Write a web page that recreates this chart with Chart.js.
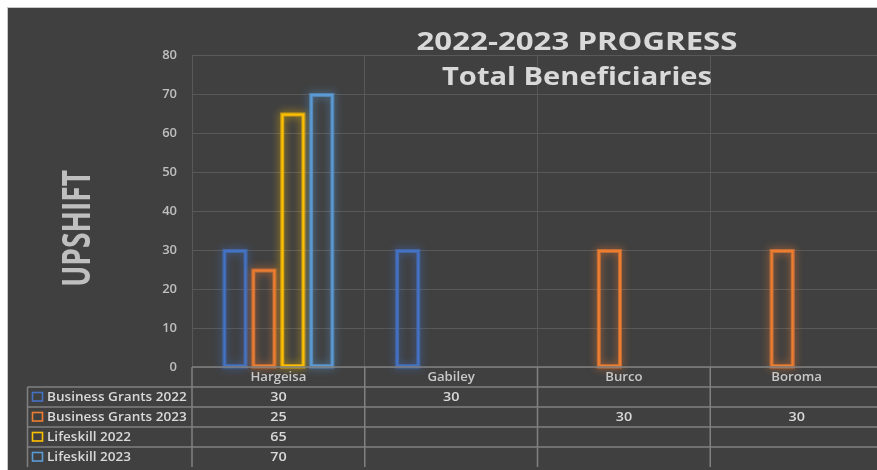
<!DOCTYPE html>
<html>
<head>
<meta charset="utf-8">
<script src="https://cdn.jsdelivr.net/npm/chart.js@4.4.0/dist/chart.umd.min.js"></script>
<style>
html, body { margin: 0; padding: 0; background: #ffffff; overflow: hidden; width: 877px; height: 470px; }
#wrap { position: absolute; left: 7px; top: 7px; width: 892px; height: 462px;
        border-left: 1px solid #c8c8c8; border-top: 1px solid #c8c8c8; background: #404040; }
</style>
</head>
<body>
<div id="wrap"><canvas id="chart" width="892" height="462"></canvas></div>
<script>
// chart data
var categories = ['Hargeisa', 'Gabiley', 'Burco', 'Boroma'];
var seriesNames = ['Business Grants 2022', 'Business Grants 2023', 'Lifeskill 2022', 'Lifeskill 2023'];
var businessGrants2022 = [30, 30, null, null];
var businessGrants2023 = [25, null, 30, 30];
var lifeskill2022 = [65, null, null, null];
var lifeskill2023 = [70, null, null, null];
var yTicks = [0, 10, 20, 30, 40, 50, 60, 70, 80];
var titleLines = ['2022-2023 PROGRESS', 'Total Beneficiaries'];
var yTitle = 'UPSHIFT';

var colors = ['#4472C4', '#ED7D31', '#FFC000', '#5B9BD5'];
var seriesValues = [businessGrants2022, businessGrants2023, lifeskill2022, lifeskill2023];
var FONT = '"Open Sans", "DejaVu Sans", sans-serif';

function stretchText(ctx, txt, x, y, sx){
    ctx.save();
    ctx.translate(x, y);
    ctx.scale(sx, 1);
    ctx.fillText(txt, 0, 0);
    ctx.restore();
}
function fitText(ctx, txt, x, y, w){
    var m = ctx.measureText(txt).width;
    stretchText(ctx, txt, x, y, w / m);
}

// soft glow round each bar
var glowPlugin = {
    id: 'glow',
    beforeDatasetsDraw: function(chart){
        var ctx = chart.ctx;
        chart.data.datasets.forEach(function(ds, i){
            var meta = chart.getDatasetMeta(i);
            meta.data.forEach(function(el, j){
                if (ds.data[j] == null) return;
                var p = el.getProps(['x', 'y', 'base', 'width'], true);
                ctx.save();
                ctx.shadowColor = colors[i];
                ctx.shadowBlur = 9;
                ctx.strokeStyle = colors[i] + 'aa';
                ctx.lineWidth = 4;
                ctx.strokeRect(p.x - p.width / 2 + 1, p.y + 1, p.width - 2, p.base - p.y - 1);
                ctx.restore();
            });
        });
    }
};

// title, axis title and the data table
var extrasPlugin = {
    id: 'extras',
    afterDraw: function(chart){
        var ctx = chart.ctx;
        var area = chart.chartArea;
        var xs = chart.scales.x;
        var W = chart.width;
        ctx.save();

        // title
        ctx.fillStyle = '#d9d9d9';
        ctx.textAlign = 'center';
        ctx.textBaseline = 'alphabetic';
        ctx.font = 'bold 25px ' + FONT;
        fitText(ctx, titleLines[0], 569, 42, 321);
        fitText(ctx, titleLines[1], 569, 77, 270);

        // y axis title
        ctx.save();
        ctx.translate(82, 220.5);
        ctx.rotate(-Math.PI / 2);
        ctx.fillStyle = '#bfbfbf';
        ctx.font = 'bold 39px ' + FONT;
        fitText(ctx, yTitle, 0, 0, 117);
        ctx.restore();

        // table grid
        var n = categories.length;
        var cw = (area.right - area.left) / n;
        var top = area.bottom, rowH = 20, legendLeft = 19.5;
        var bottom = top + rowH * (seriesNames.length + 1);
        ctx.strokeStyle = '#808080';
        ctx.lineWidth = 1.5;
        ctx.beginPath();
        ctx.moveTo(area.left, top); ctx.lineTo(W, top);
        for (var r = 1; r <= seriesNames.length; r++){
            ctx.moveTo(legendLeft, top + r * rowH); ctx.lineTo(W, top + r * rowH);
        }
        ctx.moveTo(legendLeft, top + rowH); ctx.lineTo(legendLeft, bottom);
        for (var i = 0; i <= n; i++){
            var gx = area.left + i * cw;
            ctx.moveTo(gx, top); ctx.lineTo(gx, bottom);
        }
        ctx.stroke();

        // header labels
        ctx.font = '600 12px ' + FONT;
        ctx.fillStyle = '#c8c8c8';
        ctx.textAlign = 'center';
        categories.forEach(function(c, k){
            stretchText(ctx, c, xs.getPixelForValue(k), top + 14, 1.1);
        });

        // rows
        seriesNames.forEach(function(name, s){
            var ry = top + (s + 1) * rowH;
            ctx.strokeStyle = colors[s];
            ctx.lineWidth = 1.6;
            ctx.strokeRect(legendLeft + 5, ry + 5.5, 10, 8.5);
            ctx.fillStyle = '#d9d9d9';
            ctx.textAlign = 'left';
            ctx.font = '600 12px ' + FONT;
            stretchText(ctx, name, legendLeft + 19.5, ry + 14, 1.13);
            ctx.textAlign = 'center';
            ctx.font = '600 12.5px ' + FONT;
            seriesValues[s].forEach(function(v, k){
                if (v == null) return;
                stretchText(ctx, String(v), xs.getPixelForValue(k), ry + 14, 1.15);
            });
        });
        ctx.restore();
    }
};

var context = document.getElementById('chart').getContext('2d');
var myChart = new Chart(context, {
    type: 'bar',
    data: {
        labels: categories,
        datasets: seriesNames.map(function(name, i){
            return {
                label: name,
                data: seriesValues[i],
                backgroundColor: 'rgba(0,0,0,0)',
                borderColor: colors[i],
                borderWidth: 2,
                borderSkipped: false,
                categoryPercentage: 0.67,
                barPercentage: 0.8
            };
        })
    },
    options: {
        responsive: false,
        devicePixelRatio: 1,
        animation: false,
        layout: { padding: { left: 0, top: 47, right: 17, bottom: 0 } },
        plugins: {
            legend: { display: false },
            tooltip: { enabled: false },
            title: { display: false }
        },
        scales: {
            x: {
                grid: { color: '#595959', drawTicks: false, offset: true },
                border: { display: false },
                ticks: { display: false },
                afterFit: function(scale){ scale.height = 103; }
            },
            y: {
                min: 0,
                max: 80,
                grid: { color: '#595959', drawTicks: false },
                border: { display: true, color: '#595959' },
                afterBuildTicks: function(scale){
                    scale.ticks = yTicks.map(function(v){ return { value: v }; });
                },
                ticks: {
                    color: '#bfbfbf',
                    padding: 15,
                    font: { family: FONT, size: 13, weight: '600' }
                },
                afterFit: function(scale){ scale.width = 184; }
            }
        }
    },
    plugins: [glowPlugin, extrasPlugin]
});
</script>
</body>
</html>
